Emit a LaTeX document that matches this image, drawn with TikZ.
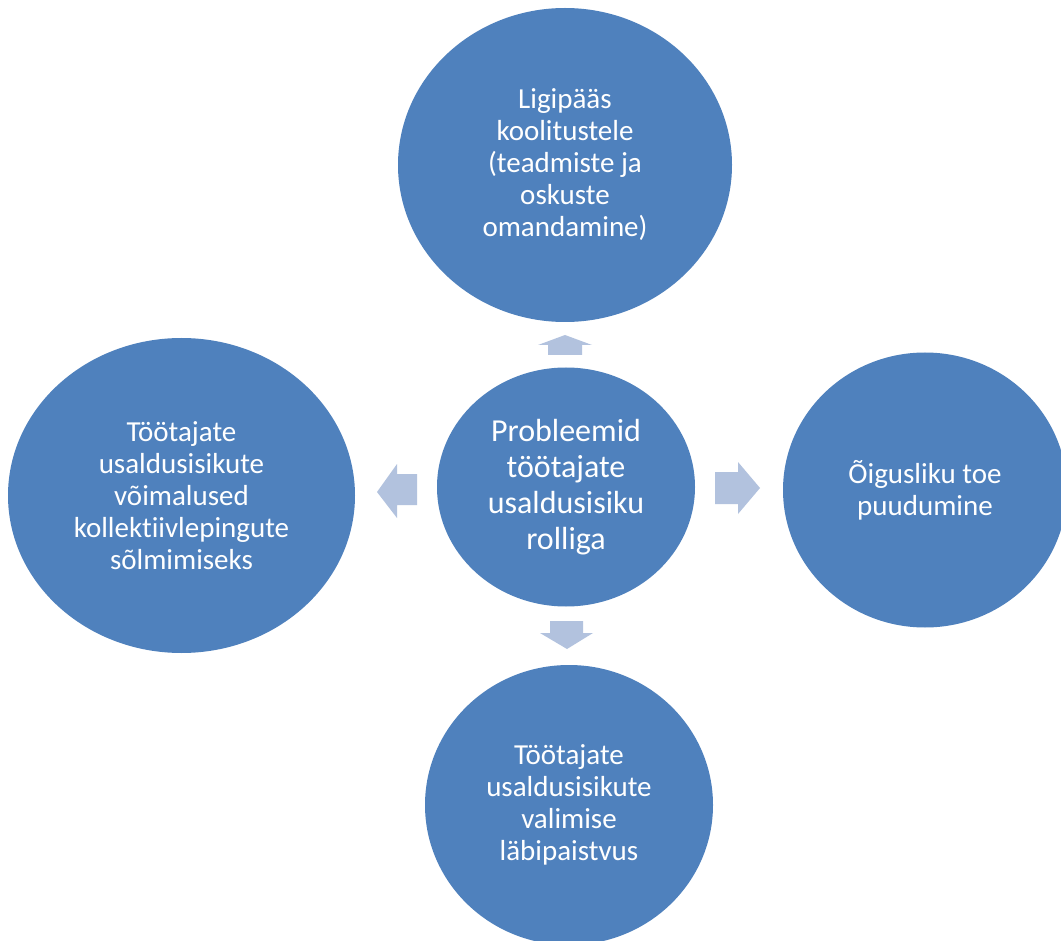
\documentclass[tikz,border=0pt]{standalone}
\usepackage{fontspec}
\setmainfont{Carlito}[Ligatures=NoCommon]
\usetikzlibrary{shapes.geometric}
\definecolor{circblue}{RGB}{79,129,189}
\definecolor{arrblue}{RGB}{178,194,222}
\tikzset{
  bubble/.style={ellipse, fill=circblue, draw=none, inner sep=0pt, text=white, align=center,
    font=\fontsize{29}{32}\selectfont},
  centerbubble/.style={bubble, font=\fontsize{32}{36}\selectfont},
  blockarrow/.style={fill=arrblue, draw=none}
}
\begin{document}
\begin{tikzpicture}[x=1pt,y=-1pt]
\useasboundingbox (0,0) rectangle (1061,941);
\clip (0,0) rectangle (1061,941);
\fill[white] (0,0) rectangle (1061,941);

\node[centerbubble, minimum width=258pt, minimum height=239pt] (c) at (566,487)
  {Probleemid\\töötajate\\usaldusisiku\\rolliga};
\node[bubble, minimum width=334pt, minimum height=314pt] (t) at (565,165)
  {Ligipääs\\koolitustele\\(teadmiste ja\\oskuste\\omandamine)};
\node[bubble, minimum width=347pt, minimum height=315pt] (l) at (181.5,495.5)
  {Töötajate\\usaldusisikute\\võimalused\\kollektiivlepingute\\sõlmimiseks};
\node[bubble, minimum width=284pt, minimum height=275pt] (r) at (925,490)
  {Õigusliku toe\\puudumine};
\node[bubble, minimum width=288pt, minimum height=280pt] (b) at (569,805)
  {Töötajate\\usaldusisikute\\valimise\\läbipaistvus};

% block arrows from the centre circle outward
\fill[blockarrow] (548,355) -- (548,345) -- (538,345) -- (565,335) -- (592,345) -- (582,345) -- (582,355) -- cycle;
\fill[blockarrow] (550,621) -- (583,621) -- (583,633) -- (593,633) -- (567,649) -- (540,633) -- (550,633) -- cycle;
\fill[blockarrow] (417,474) -- (397,474) -- (397,464) -- (377,492) -- (397,518) -- (397,505) -- (417,505) -- cycle;
\fill[blockarrow] (715,472) -- (738,472) -- (738,462) -- (760,488) -- (738,514) -- (738,504) -- (715,504) -- cycle;
\end{tikzpicture}
\end{document}
